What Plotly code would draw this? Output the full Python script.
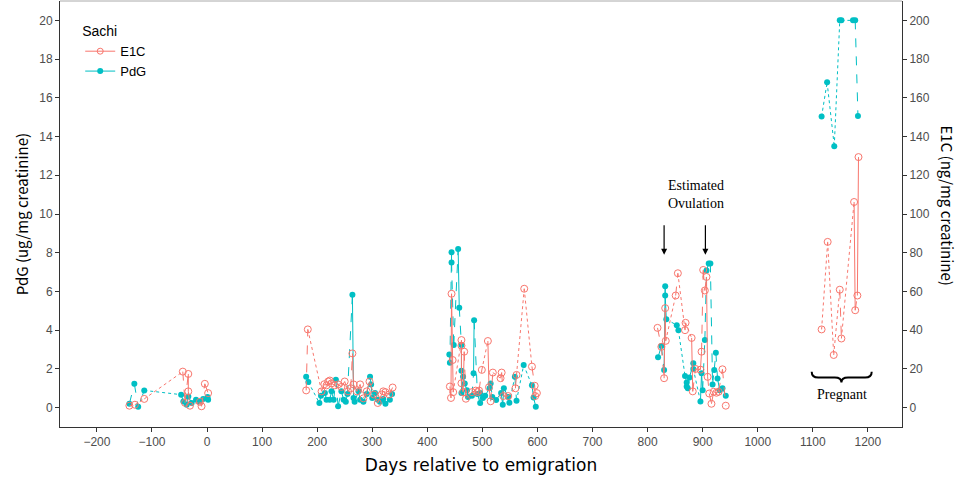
import plotly.graph_objects as go

# ---------------- data ----------------
e1c_days = [-141, -131, -114, -44, -40, -34, -34, -31, -13, -10, -4, 2,
            180, 183, 208, 213, 217, 220, 223, 226, 232, 238, 244, 250, 256, 261, 264, 266,
            272, 278, 284, 290, 295, 303, 310, 317, 320, 324, 331, 337,
            441, 443, 444, 446, 447, 462, 462, 462, 465, 467, 470, 481, 488, 491, 494, 499,
            510, 512, 515, 519, 533, 535, 538, 547, 560, 562, 576, 590, 595, 596, 599,
            818, 825, 830, 832, 833, 851, 855, 868, 869, 880, 882, 887, 896, 898, 901, 904,
            907, 909, 912, 916, 920, 925, 929, 936, 942,
            1116, 1127, 1138, 1149, 1152, 1175, 1177, 1181, 1183]
e1c_vals = [1, 1.5, 4.5, 18.6, 2.5, 17.4, 8.4, 1, 3, 0.7, 12.3, 7.5,
            8.9, 40.4, 8.4, 12.1, 11.5, 13.5, 14, 12.5, 11.5, 12, 10.7, 13.5, 8.4, 10, 28, 12,
            8.4, 12, 4.8, 8.4, 13.5, 6.8, 2.4, 6.8, 8.4, 8, 6.8, 10.4,
            10.9, 5, 58.8, 24.6, 8, 34.9, 32, 12.6, 8, 28.9, 4.6, 8, 8.8, 8, 8.8, 19.5,
            34.4, 10.5, 3.3, 18.1, 15.2, 18.1, 6, 6, 10, 16.9, 61.4, 21.2, 11.3, 6, 7.5,
            41.2, 31.4, 15.2, 51.4, 34.5, 57.9, 69.4, 40, 43.8, 36, 8.4, 20, 19.6, 28.9, 71.1, 60.5,
            67.5, 15.9, 7.3, 2, 8.2, 7.7, 8.2, 19.8, 1,
            40.4, 85.6, 27.2, 60.9, 35.7, 106.2, 50.3, 57.9, 129.4]

pdg_days = [-141, -132, -125, -114, -47, -43, -37, -34, -28, -20, -14, -7, 1, 2,
            180, 184, 204, 207, 214, 217, 223, 226, 230, 234, 238, 244, 248, 252, 255, 264, 266,
            268, 275, 278, 284, 290, 296, 298, 300, 305, 310, 314, 320, 324, 332, 336,
            440, 441, 444, 444, 448, 456, 458, 462, 462, 462, 465, 468, 472, 474, 481, 484, 485,
            491, 496, 496, 501, 505, 513, 515, 518, 525, 534, 537, 539, 547, 549, 559, 562, 575,
            590, 593, 597,
            819, 825, 830, 832, 832, 834, 853, 856, 868, 871, 871, 873, 876, 883, 883, 896, 898,
            900, 904, 907, 911, 914, 918, 921, 924, 927, 931, 936, 942,
            1116, 1126, 1139, 1149, 1152, 1173, 1177, 1182]
pdg_vals = [0.2, 1.23, 0.04, 0.89, 0.67, 0.32, 0.15, 0.58, 0.24, 0.41, 0.32, 0.45, 0.55, 0.41,
            1.59, 1.32, 0.24, 0.62, 0.75, 0.41, 0.41, 0.84, 0.41, 1.44, 0.07, 0.84, 0.41, 0.3, 0.7, 5.83, 0.5,
            0.3, 0.84, 0.41, 0.3, 0.7, 1.6, 1.2, 0.5, 0.75, 0.41, 0.3, 0.45, 0.2, 0.41, 0.7,
            2.75, 2.32, 8.02, 7.5, 3.23, 8.19, 5.16, 3.23, 1.9, 0.75, 1.6, 1.25, 0.9, 0.55, 0.62, 1.78, 4.51,
            0.7, 0.24, 0.75, 0.5, 0.62, 1.0, 1.25, 0.55, 0.4, 0.75, 0.15, 1.0, 0.55, 0.25, 1.6, 0.35, 2.2,
            1.15, 0.52, 0.04,
            2.6, 3.18, 1.95, 6.27, 5.79, 4.56, 4.26, 4.0, 1.64, 1.3, 1.09, 1.0, 1.55, 2.29, 2.0, 0.32, 1.78,
            0.9, 3.49, 7.08, 7.45, 7.45, 1.2, 1.95, 2.84, 1.5, 0.9, 1.0, 0.62,
            15.03, 16.8, 13.5, 20, 20, 20, 20, 15.06]

x_ticks = list(range(-200, 1201, 100))
pdg_ticks = list(range(0, 21, 2))
e1c_ticks = list(range(0, 201, 20))

E1C_COLOR = "#F8766D"
PDG_COLOR = "#00BFC4"


def dash_for_gap(gap):
    if gap <= 2:
        return "solid"
    if gap <= 9:
        return "dash"
    return "dot"


def segment_traces(days, vals, color, yaxis, name):
    groups = {}
    for i in range(len(days) - 1):
        gap = days[i + 1] - days[i]
        if gap > 100:
            continue
        style = dash_for_gap(gap)
        g = groups.setdefault(style, ([], []))
        g[0].extend([days[i], days[i + 1], None])
        g[1].extend([vals[i], vals[i + 1], None])
    traces = []
    for style, (xs, ys) in groups.items():
        traces.append(go.Scatter(x=xs, y=ys, mode="lines", yaxis=yaxis,
                                 line=dict(color=color, width=1, dash=style),
                                 showlegend=False, hoverinfo="skip", name=name))
    return traces


fig = go.Figure()
for t in segment_traces(e1c_days, e1c_vals, E1C_COLOR, "y2", "E1C"):
    fig.add_trace(t)
for t in segment_traces(pdg_days, pdg_vals, PDG_COLOR, "y", "PdG"):
    fig.add_trace(t)

fig.add_trace(go.Scatter(x=e1c_days, y=e1c_vals, mode="markers", yaxis="y2", name="E1C",
                         marker=dict(symbol="circle-open", size=7, color=E1C_COLOR,
                                     line=dict(width=1, color=E1C_COLOR)),
                         showlegend=False))
fig.add_trace(go.Scatter(x=pdg_days, y=pdg_vals, mode="markers", yaxis="y", name="PdG",
                         marker=dict(symbol="circle", size=6, color=PDG_COLOR),
                         showlegend=False))

# legend entries
fig.add_trace(go.Scatter(x=[None], y=[None], mode="lines+markers", name="E1C", yaxis="y2",
                         line=dict(color=E1C_COLOR, width=1),
                         marker=dict(symbol="circle-open", size=6, color=E1C_COLOR)))
fig.add_trace(go.Scatter(x=[None], y=[None], mode="lines+markers", name="PdG", yaxis="y",
                         line=dict(color=PDG_COLOR, width=1),
                         marker=dict(symbol="circle", size=6, color=PDG_COLOR)))

tick_font = dict(family="Liberation Sans, Arial, sans-serif", size=12, color="#4d4d4d")

fig.update_layout(
    width=961, height=495,
    margin=dict(l=60, r=59, t=1, b=68),
    plot_bgcolor="white", paper_bgcolor="white",
    xaxis=dict(range=[-267, 1262], tickvals=x_ticks, ticks="outside", ticklen=4,
               tickcolor="#333333", showline=True, linecolor="#333333", linewidth=1,
               showgrid=False, zeroline=False, tickfont=tick_font,
               title=dict(text="Days relative to emigration",
                          font=dict(family="DejaVu Sans, Verdana, sans-serif", size=17, color="black"),
                          standoff=10)),
    yaxis=dict(range=[-1, 21], tickvals=pdg_ticks, ticks="outside", ticklen=4,
               tickcolor="#333333", showline=True, linecolor="#333333", linewidth=1,
               showgrid=False, zeroline=False, tickfont=tick_font,
               title=dict(text="PdG (ug/mg creatinine)",
                          font=dict(family="Noto Sans CJK JP, sans-serif", size=15, color="black"),
                          standoff=6)),
    yaxis2=dict(range=[-10, 210], tickvals=e1c_ticks, ticks="outside", ticklen=4,
                tickcolor="#333333", showline=True, linecolor="#333333", linewidth=1,
                overlaying="y", side="right", showgrid=False, zeroline=False,
                tickfont=tick_font),
    legend=dict(x=0.024, y=0.96, xanchor="left", yanchor="top",
                bgcolor="rgba(0,0,0,0)",
                title=dict(text="Sachi", font=dict(family="Liberation Sans, Arial", size=14, color="black")),
                font=dict(family="Liberation Sans, Arial", size=13, color="black"),
                tracegroupgap=4),
)

# top border line
fig.add_shape(type="line", xref="paper", yref="paper", x0=0, x1=1, y0=1, y1=1,
              line=dict(color="#aaaaaa", width=1))

# right axis title (rotated clockwise)
fig.add_annotation(text="E1C (ng/mg creatinine)", xref="paper", yref="paper",
                   x=1.0, xanchor="center", xshift=46, y=0.52, textangle=90, showarrow=False,
                   font=dict(family="Noto Sans CJK JP, sans-serif", size=15, color="black"))

serif = dict(family="Liberation Serif, Times New Roman, serif", size=14, color="black")
fig.add_annotation(text="Estimated<br>Ovulation", x=888, y=11.0, yref="y", showarrow=False,
                   font=serif)
for xd in [830, 905]:
    fig.add_annotation(x=xd, y=7.9, ax=xd, ay=9.5, xref="x", yref="y", axref="x", ayref="y",
                       showarrow=True, arrowhead=2, arrowsize=1, arrowwidth=1.2,
                       arrowcolor="black", text="")

# brace over "Pregnant"
xa, xb, xc = 1098, 1207, 1152
yt, ym, yb = 1.85, 1.55, 1.3
brace = (f"M {xa},{yt} Q {xa},{ym} {xa+12},{ym} L {xc-12},{ym} Q {xc},{ym} {xc},{yb} "
         f"Q {xc},{ym} {xc+12},{ym} L {xb-12},{ym} Q {xb},{ym} {xb},{yt}")
fig.add_shape(type="path", path=brace, xref="x", yref="y", line=dict(color="black", width=2))
fig.add_annotation(text="Pregnant", x=1153, y=0.7, yref="y", showarrow=False, font=serif)

fig.write_html("out.html")
